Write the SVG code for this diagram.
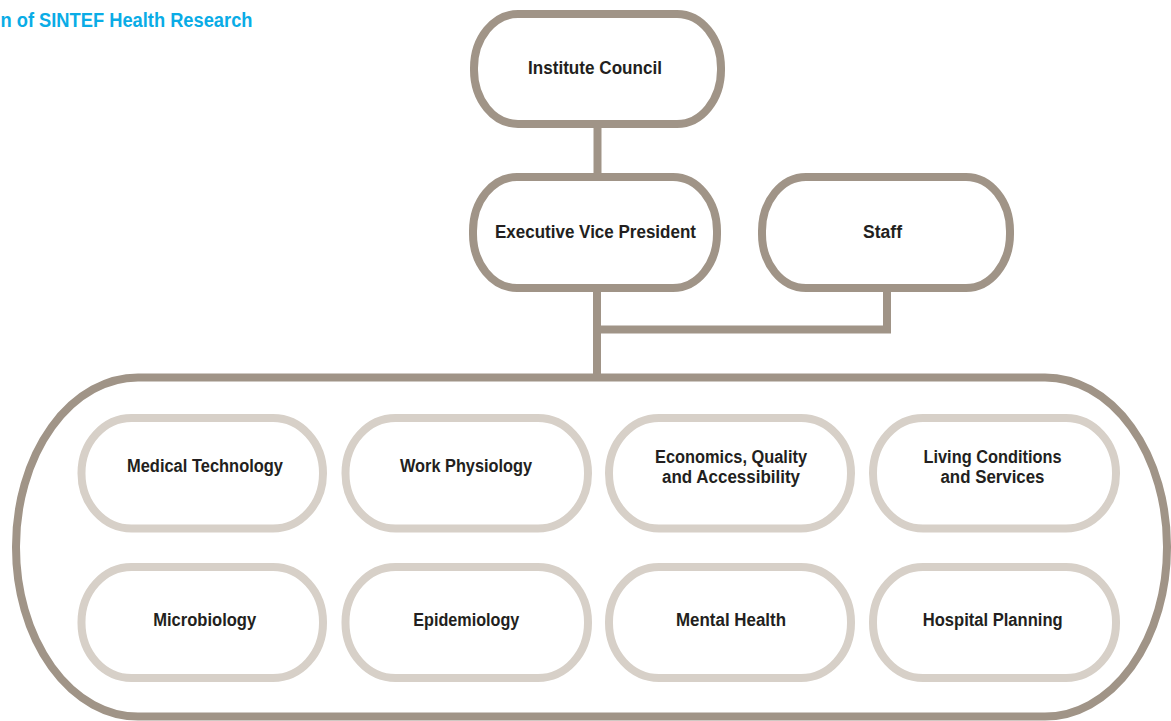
<svg xmlns="http://www.w3.org/2000/svg" width="1171" height="721" viewBox="0 0 1171 721">
<style>
.dark{fill:#ffffff;stroke:#a09487;stroke-width:8}
.light{fill:#ffffff;stroke:#d7d0c8;stroke-width:8}
.conn{fill:none;stroke:#a09487;stroke-width:8;stroke-linejoin:miter;stroke-linecap:butt}
.t{font-family:"Liberation Sans",Arial,sans-serif;font-weight:bold;font-size:18px;fill:#231f20;text-anchor:middle}
.title{font-family:"Liberation Sans",Arial,sans-serif;font-weight:bold;font-size:20px;fill:#0aace6}
</style>
<rect width="1171" height="721" fill="#ffffff"/>
<text class="title" x="0.5" y="26.7" textLength="252" lengthAdjust="spacingAndGlyphs">n of SINTEF Health Research</text>

<g id="connectors">
<path class="conn" d="M597.5,124 V177"/>
<path class="conn" d="M597,288 V377.5"/>
<path class="conn" d="M887,288 V329.5 H597"/>
</g>

<g id="institute-council">
<rect class="dark" x="474" y="14" width="247" height="110" rx="44" ry="54"/>
<text class="t" x="595" y="74" textLength="134" lengthAdjust="spacingAndGlyphs">Institute Council</text>
</g>
<g id="executive-vice-president">
<rect class="dark" x="473" y="177" width="244" height="111" rx="44" ry="54"/>
<text class="t" x="595.5" y="237.7" textLength="201" lengthAdjust="spacingAndGlyphs">Executive Vice President</text>
</g>
<g id="staff">
<rect class="dark" x="762" y="177" width="248" height="111" rx="44" ry="54"/>
<text class="t" x="882.5" y="237.7" textLength="39" lengthAdjust="spacingAndGlyphs">Staff</text>
</g>

<g id="departments">
<rect class="dark" x="16" y="377.5" width="1151" height="339" rx="122" ry="169"/>
</g>

<g id="medical-technology">
<rect class="light" x="81.5" y="418" width="241.5" height="110.5" rx="50" ry="55"/>
<text class="t" x="205" y="471.7" textLength="156" lengthAdjust="spacingAndGlyphs">Medical Technology</text>
</g>
<g id="work-physiology">
<rect class="light" x="345.5" y="418" width="242.5" height="110.5" rx="50" ry="55"/>
<text class="t" x="466" y="471.7" textLength="132" lengthAdjust="spacingAndGlyphs">Work Physiology</text>
</g>
<g id="economics-quality-accessibility">
<rect class="light" x="609" y="418" width="242" height="110.5" rx="50" ry="55"/>
<text class="t" x="731" y="463" textLength="152" lengthAdjust="spacingAndGlyphs">Economics, Quality</text>
<text class="t" x="731" y="483" textLength="138" lengthAdjust="spacingAndGlyphs">and Accessibility</text>
</g>
<g id="living-conditions-services">
<rect class="light" x="873" y="418" width="243" height="110.5" rx="50" ry="55"/>
<text class="t" x="992.5" y="463.3" textLength="138" lengthAdjust="spacingAndGlyphs">Living Conditions</text>
<text class="t" x="992.5" y="482.7" textLength="104" lengthAdjust="spacingAndGlyphs">and Services</text>
</g>

<g id="microbiology">
<rect class="light" x="81.5" y="567" width="241.5" height="111" rx="50" ry="55"/>
<text class="t" x="204.7" y="625.7" textLength="103" lengthAdjust="spacingAndGlyphs">Microbiology</text>
</g>
<g id="epidemiology">
<rect class="light" x="345.5" y="567" width="242.5" height="111" rx="50" ry="55"/>
<text class="t" x="466.3" y="625.7" textLength="106" lengthAdjust="spacingAndGlyphs">Epidemiology</text>
</g>
<g id="mental-health">
<rect class="light" x="609" y="567" width="242" height="111" rx="50" ry="55"/>
<text class="t" x="731" y="625.7" textLength="110" lengthAdjust="spacingAndGlyphs">Mental Health</text>
</g>
<g id="hospital-planning">
<rect class="light" x="873" y="567" width="243" height="111" rx="50" ry="55"/>
<text class="t" x="992.7" y="625.7" textLength="140" lengthAdjust="spacingAndGlyphs">Hospital Planning</text>
</g>
</svg>
